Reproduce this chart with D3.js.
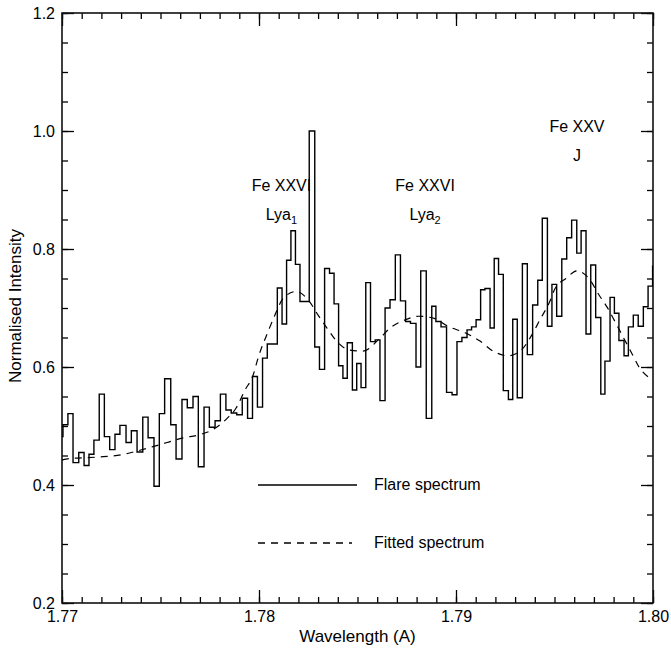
<!DOCTYPE html>
<html>
<head>
<meta charset="utf-8">
<script src="https://cdn.jsdelivr.net/npm/d3@7"></script>
<style>
  html, body { margin: 0; padding: 0; background: #fff; }
  svg { display: block; }
  text { font-family: "Liberation Sans", Arial, Helvetica, sans-serif; fill: #000; }
</style>
</head>
<body>
<svg id="chart" width="671" height="649"></svg>
<script>
// ---------------- data ----------------
const binStart = [
  1.76980, 1.77005, 1.77030, 1.77056, 1.77085, 1.77112, 1.77137, 1.77162, 1.77189, 1.77215,
  1.77242, 1.77269, 1.77294, 1.77325, 1.77352, 1.77381, 1.77410, 1.77437, 1.77467, 1.77494,
  1.77521, 1.77552, 1.77579, 1.77609, 1.77636, 1.77665, 1.77692, 1.77721, 1.77748, 1.77777,
  1.77804, 1.77832, 1.77859, 1.77887, 1.77915, 1.77942, 1.77967, 1.77992, 1.78018, 1.78042,
  1.78068, 1.78093, 1.78117, 1.78140, 1.78162, 1.78185, 1.78208, 1.78232, 1.78255, 1.78283,
  1.78307, 1.78333, 1.78358, 1.78381, 1.78404, 1.78426, 1.78448, 1.78474, 1.78496, 1.78518,
  1.78542, 1.78566, 1.78590, 1.78614, 1.78640, 1.78665, 1.78692, 1.78718, 1.78744, 1.78769,
  1.78797, 1.78821, 1.78849, 1.78877, 1.78898, 1.78924, 1.78952, 1.78980, 1.79005, 1.79030,
  1.79056, 1.79079, 1.79102, 1.79125, 1.79147, 1.79173, 1.79194, 1.79216, 1.79240, 1.79266,
  1.79288, 1.79311, 1.79337, 1.79362, 1.79389, 1.79415, 1.79438, 1.79464, 1.79487, 1.79511,
  1.79537, 1.79562, 1.79587, 1.79613, 1.79635, 1.79660, 1.79684, 1.79709, 1.79735, 1.79756,
  1.79782, 1.79804, 1.79827, 1.79853, 1.79875, 1.79900, 1.79925, 1.79951, 1.79975, 1.79998
];
const lastBinEnd = 1.80025;

const flareIntensity = [
  0.482, 0.502, 0.521, 0.438, 0.455, 0.433, 0.452, 0.476, 0.554, 0.482,
  0.460, 0.486, 0.501, 0.472, 0.492, 0.456, 0.515, 0.480, 0.398, 0.521,
  0.580, 0.502, 0.444, 0.545, 0.531, 0.550, 0.431, 0.532, 0.498, 0.509,
  0.554, 0.527, 0.522, 0.519, 0.547, 0.513, 0.584, 0.532, 0.615, 0.639,
  0.639, 0.734, 0.673, 0.781, 0.831, 0.774, 0.711, 0.711, 1.000, 0.634,
  0.596, 0.767, 0.759, 0.707, 0.602, 0.581, 0.641, 0.561, 0.606, 0.565,
  0.743, 0.643, 0.646, 0.543, 0.700, 0.714, 0.790, 0.712, 0.677, 0.674,
  0.600, 0.763, 0.513, 0.703, 0.677, 0.668, 0.557, 0.553, 0.643, 0.650,
  0.663, 0.668, 0.680, 0.731, 0.733, 0.666, 0.784, 0.757, 0.560, 0.545,
  0.681, 0.548, 0.775, 0.621, 0.705, 0.747, 0.852, 0.669, 0.740, 0.686,
  0.783, 0.819, 0.849, 0.793, 0.831, 0.656, 0.773, 0.684, 0.554, 0.610,
  0.718, 0.691, 0.645, 0.619, 0.668, 0.688, 0.669, 0.702, 0.737, 0.771
];

const fitWavelength = [
  1.77000, 1.77020, 1.77208, 1.77299, 1.77386, 1.77462, 1.77533, 1.77614, 1.77695, 1.77777,
  1.77838, 1.77883, 1.77929, 1.77970, 1.77995, 1.78046, 1.78081, 1.78122, 1.78188, 1.78249,
  1.78300, 1.78345, 1.78391, 1.78457, 1.78528, 1.78614, 1.78665, 1.78736, 1.78812, 1.78893,
  1.78959, 1.79046, 1.79122, 1.79188, 1.79264, 1.79335, 1.79386, 1.79426, 1.79472, 1.79503,
  1.79558, 1.79614, 1.79675, 1.79726, 1.79766, 1.79807, 1.79848, 1.79888, 1.79929, 1.80000
];
const fitIntensity = [
  0.442, 0.444, 0.448, 0.451, 0.458, 0.465, 0.472, 0.480, 0.485, 0.496,
  0.513, 0.530, 0.561, 0.586, 0.615, 0.660, 0.688, 0.716, 0.728, 0.714,
  0.688, 0.666, 0.645, 0.629, 0.627, 0.649, 0.666, 0.679, 0.686, 0.682,
  0.669, 0.658, 0.644, 0.627, 0.619, 0.630, 0.655, 0.680, 0.708, 0.733,
  0.750, 0.763, 0.750, 0.722, 0.702, 0.677, 0.651, 0.626, 0.600, 0.578
];

const xMajorTicks = [1.77, 1.78, 1.79, 1.80];
const xTickLabels = ["1.77", "1.78", "1.79", "1.80"];
const yMajorTicks = [0.2, 0.4, 0.6, 0.8, 1.0, 1.2];
const yTickLabels = ["0.2", "0.4", "0.6", "0.8", "1.0", "1.2"];

const lineLabels = [
  { wl: 1.78114, top: "Fe XXVI", bottom: "Lya", sub: "1" },
  { wl: 1.78843, top: "Fe XXVI", bottom: "Lya", sub: "2" },
  { wl: 1.79614, top: "Fe XXV", bottom: "J", sub: "" }
];
const lineLabelY = [1.0, 1.0, 1.1];

const legendItems = ["Flare spectrum", "Fitted spectrum"];

// ---------------- layout ----------------
const W = 671, H = 649;
const m = { left: 62, right: 18, top: 13, bottom: 46 };
const pw = W - m.left - m.right;   // 591
const ph = H - m.top - m.bottom;   // 590

const svg = d3.select("#chart");
const g = svg.append("g").attr("transform", `translate(${m.left},${m.top})`);

const x = d3.scaleLinear().domain([1.77, 1.80]).range([0, pw]);
const y = d3.scaleLinear().domain([0.2, 1.2]).range([ph, 0]);

svg.append("defs").append("clipPath").attr("id", "plotClip")
  .append("rect").attr("x", 0).attr("y", 0).attr("width", pw).attr("height", ph);

// ---------------- axes (IDL style, ticks inward on all four sides) ----------------
const xMinor = d3.range(0, 31).map(i => 1.77 + i * 0.001);
const yMinor = d3.range(0, 21).map(i => 0.2 + i * 0.05);

function styleAxis(sel) {
  sel.select(".domain").remove();
  sel.selectAll("line").attr("stroke", "#000").attr("stroke-width", 1.3);
}

// bottom
g.append("g").attr("transform", `translate(0,${ph})`)
  .call(d3.axisBottom(x).tickValues(xMinor).tickSize(-6).tickFormat(""))
  .call(styleAxis);
g.append("g").attr("transform", `translate(0,${ph})`)
  .call(d3.axisBottom(x).tickValues(xMajorTicks).tickSize(-13)
    .tickFormat((d, i) => xTickLabels[i]).tickPadding(8))
  .call(styleAxis)
  .call(s => s.selectAll("text").attr("font-size", 16));
// top
g.append("g")
  .call(d3.axisTop(x).tickValues(xMinor).tickSize(-6).tickFormat(""))
  .call(styleAxis);
g.append("g")
  .call(d3.axisTop(x).tickValues(xMajorTicks).tickSize(-13).tickFormat(""))
  .call(styleAxis);
// left
g.append("g")
  .call(d3.axisLeft(y).tickValues(yMinor).tickSize(-6).tickFormat(""))
  .call(styleAxis);
g.append("g")
  .call(d3.axisLeft(y).tickValues(yMajorTicks).tickSize(-12)
    .tickFormat((d, i) => yTickLabels[i]).tickPadding(7))
  .call(styleAxis)
  .call(s => s.selectAll("text").attr("font-size", 16));
// right
g.append("g").attr("transform", `translate(${pw},0)`)
  .call(d3.axisRight(y).tickValues(yMinor).tickSize(-6).tickFormat(""))
  .call(styleAxis);
g.append("g").attr("transform", `translate(${pw},0)`)
  .call(d3.axisRight(y).tickValues(yMajorTicks).tickSize(-12).tickFormat(""))
  .call(styleAxis);

// frame
g.append("rect").attr("x", 0).attr("y", 0).attr("width", pw).attr("height", ph)
  .attr("fill", "none").attr("stroke", "#111").attr("stroke-width", 1.6);

// axis titles
svg.append("text").attr("x", m.left + pw / 2).attr("y", 642)
  .attr("text-anchor", "middle").attr("font-size", 17).text("Wavelength (A)");
svg.append("text").attr("transform", `translate(21,${m.top + ph / 2 - 2}) rotate(-90)`)
  .attr("text-anchor", "middle").attr("font-size", 17).text("Normalised Intensity");

// ---------------- spectra ----------------
const plot = g.append("g").attr("clip-path", "url(#plotClip)");

const stepPts = binStart.map((wl, i) => [wl, flareIntensity[i]]);
stepPts.push([lastBinEnd, flareIntensity[flareIntensity.length - 1]]);

plot.append("path")
  .attr("d", d3.line().x(d => x(d[0])).y(d => y(d[1])).curve(d3.curveStepAfter)(stepPts))
  .attr("fill", "none").attr("stroke", "#000").attr("stroke-width", 1.4);

const fitPts = fitWavelength.map((wl, i) => [wl, fitIntensity[i]]);
plot.append("path")
  .attr("d", d3.line().x(d => x(d[0])).y(d => y(d[1])).curve(d3.curveMonotoneX)(fitPts))
  .attr("fill", "none").attr("stroke", "#000").attr("stroke-width", 1.2)
  .attr("stroke-dasharray", "7,6");

// ---------------- line labels ----------------
lineLabels.forEach((L, i) => {
  const cx = x(L.wl);
  const cy = y(lineLabelY[i]);
  g.append("text").attr("x", cx).attr("y", cy + 60)
    .attr("text-anchor", "middle").attr("font-size", 16).text(L.top);
  const t = g.append("text").attr("x", cx).attr("y", cy + 89)
    .attr("text-anchor", "middle").attr("font-size", 16);
  t.append("tspan").text(L.bottom);
  if (L.sub) {
    t.append("tspan").attr("font-size", 11).attr("dy", 4).text(L.sub);
  }
});

// ---------------- legend ----------------
const legendY = [485, 543];
legendItems.forEach((label, i) => {
  const ly = legendY[i];
  svg.append("line").attr("x1", 258).attr("x2", i === 0 ? 357 : 352)
    .attr("y1", ly).attr("y2", ly)
    .attr("stroke", "#000").attr("stroke-width", 1.3)
    .attr("stroke-dasharray", i === 0 ? null : "7,6");
  svg.append("text").attr("x", 374).attr("y", ly + 1).attr("dominant-baseline", "middle")
    .attr("font-size", 16).text(label);
});
</script>
</body>
</html>
